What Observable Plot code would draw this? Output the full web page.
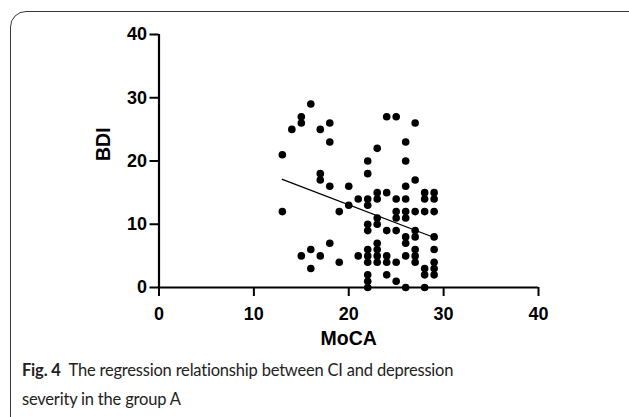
<!DOCTYPE html>
<html>
<head>
<meta charset="utf-8">
<script src="https://cdn.jsdelivr.net/npm/d3@7"></script>
<script src="https://cdn.jsdelivr.net/npm/@observablehq/plot@0.6"></script>
<style>
  html, body { margin: 0; padding: 0; background: #fff; overflow: hidden; }
  #wrap { position: relative; width: 629px; height: 417px; overflow: hidden; }
  #box { position: absolute; left: 10px; top: 11px; width: 640px; height: 430px;
         border: 1.3px solid #3a3a3a; border-radius: 16px; box-sizing: border-box; }
  #chart { position: absolute; left: 0; top: 0; }
  #chart svg text { font-family: 'Liberation Sans', Arial, sans-serif !important; font-weight: 700 !important; font-size: 18px !important; fill: #000; }
  #chart svg g[aria-label="text"] text { font-size: 19.5px !important; }
  #caption { position: absolute; left: 22px; top: 356px; width: 462px;
             font-family: Lato, "Open Sans", sans-serif; font-size: 16.5px; letter-spacing: -0.2px; line-height: 29px; color: #222; }
  #caption b { font-weight: 700; margin-right: 8px; }
</style>
</head>
<body>
<div id="wrap">
  <div id="box"></div>
  <div id="chart"></div>
  <div id="caption"><b>Fig. 4</b><span>The regression relationship between CI and depression severity in the group A</span></div>
</div>
<script>
// MoCA score (x) and BDI score (y) of each patient
const moca = [
  13, 13,
  14,
  15, 15, 15,
  16, 16, 16,
  17, 17, 17, 17,
  18, 18, 18, 18,
  19, 19,
  20, 20,
  21, 21,
  22, 22, 22, 22, 22, 22, 22, 22, 22, 22, 22, 22,
  23, 23, 23, 23, 23, 23, 23, 23, 23,
  24, 24, 24, 24, 24, 24,
  25, 25, 25, 25, 25, 25, 25,
  26, 26, 26, 26, 26, 26, 26, 26, 26, 26,
  27, 27, 27, 27, 27, 27, 27, 27,
  28, 28, 28, 28, 28, 28,
  29, 29, 29, 29, 29, 29, 29, 29
];
const bdi = [
  21, 12,
  25,
  27, 26, 5,
  29, 6, 3,
  25, 18, 17, 5,
  26, 23, 16, 7,
  12, 4,
  16, 13,
  14, 5,
  20, 18, 14, 13, 10, 9, 6, 5, 4, 2, 1, 0,
  22, 15, 14, 11, 10, 7, 6, 5, 4,
  27, 15, 9, 5, 4, 2,
  27, 14, 12, 11, 9, 4, 1,
  23, 20, 16, 14, 12, 11, 8, 7, 5, 0,
  26, 17, 12, 9, 8, 6, 5, 4,
  15, 14, 12, 3, 2, 0,
  15, 14, 12, 8, 6, 4, 3, 2
];
const xTicks = [0, 10, 20, 30, 40];
const yTicks = [0, 10, 20, 30, 40];
const xLabel = "MoCA";
const yLabel = "BDI";

const data = moca.map((m, i) => ({moca: m, bdi: bdi[i]}));

const plot = Plot.plot({
  width: 629,
  height: 350,
  marginLeft: 158.5,
  marginRight: 91,
  marginTop: 34,
  marginBottom: 63,
  style: {background: "transparent", color: "#000", overflow: "visible"},
  x: {domain: [0, 40]},
  y: {domain: [0, 40]},
  marks: [
    Plot.axisX({ticks: xTicks, tickSize: 9, strokeWidth: 2, tickPadding: 11, label: null}),
    Plot.axisY({ticks: yTicks, tickSize: 9, strokeWidth: 2, tickPadding: 3, label: null}),
    Plot.ruleY([0], {stroke: "#000", strokeWidth: 2.2}),
    Plot.ruleX([0], {stroke: "#000", strokeWidth: 2.2}),
    Plot.dot(data, {x: "moca", y: "bdi", r: 3.8, fill: "#000", stroke: "none"}),
    Plot.linearRegressionY(data, {x: "moca", y: "bdi", stroke: "#000", strokeWidth: 1.3, ci: 0}),
    Plot.text([xLabel], {frameAnchor: "bottom", dy: 57, fill: "#000"}),
    Plot.text([yLabel], {frameAnchor: "left", dx: -55, rotate: -90, fill: "#000"})
  ]
});
document.getElementById("chart").appendChild(plot);
</script>
</body>
</html>
